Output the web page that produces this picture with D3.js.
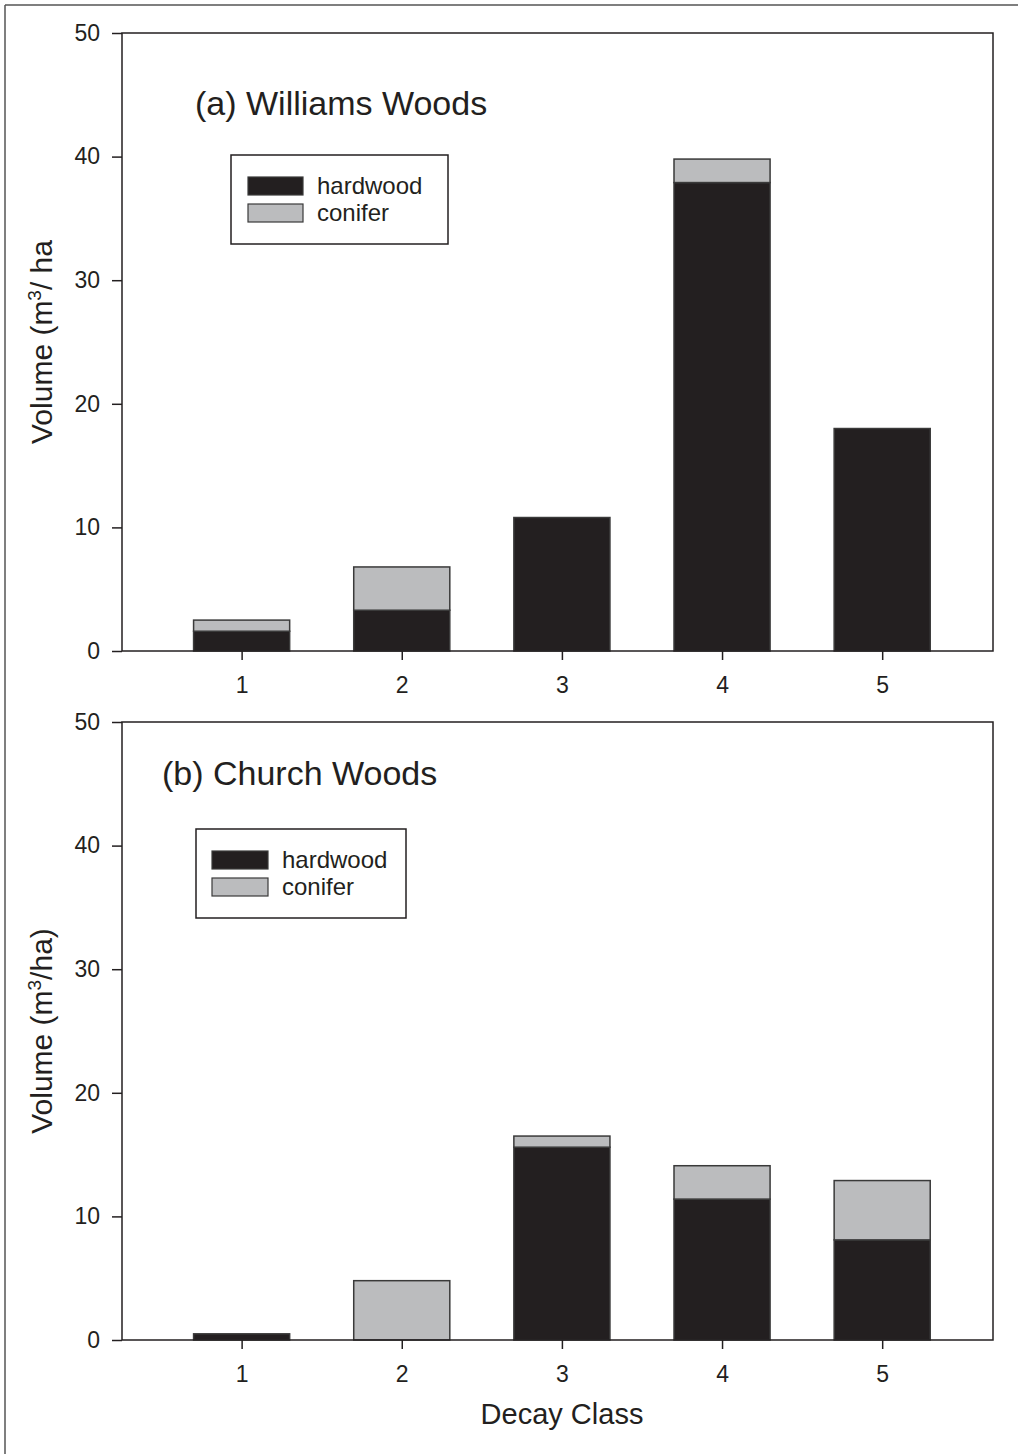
<!DOCTYPE html>
<html>
<head>
<meta charset="utf-8">
<script src="https://cdn.jsdelivr.net/npm/d3@7"></script>
<style>
  html, body { margin: 0; padding: 0; background: #fff; }
  svg { display: block; }
  text { font-family: "Liberation Sans", Arial, sans-serif; fill: #231f20; }
</style>
</head>
<body>
<svg id="chart" width="1018" height="1454"></svg>
<script>
// ---- data ----
const decayClasses = [1, 2, 3, 4, 5];
const yTicks = [0, 10, 20, 30, 40, 50];
const seriesNames = ["hardwood", "conifer"];
const williamsHardwood = [1.6, 3.3, 10.8, 37.9, 18.0];
const williamsConifer  = [0.9, 3.5, 0.0, 1.9, 0.0];
const churchHardwood   = [0.5, 0.0, 15.6, 11.4, 8.1];
const churchConifer    = [0.0, 4.8, 0.9, 2.7, 4.8];
const panelTitles = ["(a) Williams Woods", "(b) Church Woods"];

const colors = { hardwood: "#231f20", conifer: "#bbbcbe" };
const stroke = "#3a3a3a";

const svg = d3.select("#chart");

// outer frame (top and left edges)
svg.append("line").attr("x1", 5).attr("y1", 5).attr("x2", 1018).attr("y2", 5)
  .attr("stroke", "#555").attr("stroke-width", 1.5);
svg.append("line").attr("x1", 5).attr("y1", 5).attr("x2", 5).attr("y2", 1454)
  .attr("stroke", "#555").attr("stroke-width", 1.5);

const left = 122, right = 993;
const x = d3.scaleLinear().domain([0.253, 5.692]).range([left, right]);
const barW = x(1.6) - x(1.0);

const panels = [
  { top: 33, bottom: 651, hard: williamsHardwood, con: williamsConifer, title: panelTitles[0],
    titleX: 195, titleY: 115, ylabel: ["Volume (m", "3", "/ ha"],
    legend: { x: 231, y: 155, w: 217, h: 89, sx: 248, sw: 55, sy1: 177, sy2: 204, sh: 18, tx: 317 } },
  { top: 722, bottom: 1340, hard: churchHardwood, con: churchConifer, title: panelTitles[1],
    titleX: 162, titleY: 785, ylabel: ["Volume (m", "3", "/ha)"],
    legend: { x: 196, y: 829, w: 210, h: 89, sx: 212, sw: 56, sy1: 851, sy2: 878, sh: 18, tx: 282 } }
];

panels.forEach((p) => {
  const y = d3.scaleLinear().domain([0, 50]).range([p.bottom, p.top]);
  const g = svg.append("g");

  // stacked data
  const rows = decayClasses.map((c, i) => ({ cls: c, hardwood: p.hard[i], conifer: p.con[i] }));
  const stacked = d3.stack().keys(seriesNames)(rows);

  stacked.forEach((layer) => {
    g.append("g").selectAll("rect")
      .data(layer.filter(d => d[1] - d[0] > 0))
      .join("rect")
      .attr("x", d => x(d.data.cls) - barW / 2)
      .attr("width", barW)
      .attr("y", d => y(d[1]))
      .attr("height", d => y(d[0]) - y(d[1]))
      .attr("fill", colors[layer.key])
      .attr("stroke", stroke)
      .attr("stroke-width", 1.5);
  });

  // plot frame
  g.append("rect").attr("x", left).attr("y", p.top).attr("width", right - left).attr("height", p.bottom - p.top)
    .attr("fill", "none").attr("stroke", "#231f20").attr("stroke-width", 1.5);

  // y axis
  const yAxis = d3.axisLeft(y).tickValues(yTicks).tickSize(10).tickPadding(12).tickFormat(d3.format("d"));
  const ya = g.append("g").attr("transform", `translate(${left},0)`).call(yAxis);
  ya.select(".domain").remove();
  ya.selectAll("line").attr("stroke", "#231f20").attr("stroke-width", 1.5);
  ya.selectAll("text").style("font-size", "23px").style("font-family", '"Liberation Sans", Arial, sans-serif').attr("fill", "#231f20");

  // x axis
  const xAxis = d3.axisBottom(x).tickValues(decayClasses).tickSize(9).tickPadding(17).tickFormat(d3.format("d"));
  const xa = g.append("g").attr("transform", `translate(0,${p.bottom})`).call(xAxis);
  xa.select(".domain").remove();
  xa.selectAll("line").attr("stroke", "#231f20").attr("stroke-width", 1.5);
  xa.selectAll("text").style("font-size", "23px").style("font-family", '"Liberation Sans", Arial, sans-serif').attr("fill", "#231f20");

  // panel title
  g.append("text").attr("x", p.titleX).attr("y", p.titleY).style("font-size", "34px").text(p.title);

  // y label
  const cy = (p.top + p.bottom) / 2;
  const yl = g.append("text").attr("transform", `translate(52,${cy}) rotate(-90)`)
    .attr("text-anchor", "middle").style("font-size", "30px");
  yl.append("tspan").text(p.ylabel[0]);
  yl.append("tspan").attr("dy", -11).style("font-size", "19px").text(p.ylabel[1]);
  yl.append("tspan").attr("dy", 11).text(p.ylabel[2]);

  // legend
  const L = p.legend;
  const lg = g.append("g");
  lg.append("rect").attr("x", L.x).attr("y", L.y).attr("width", L.w).attr("height", L.h)
    .attr("fill", "#fff").attr("stroke", "#231f20").attr("stroke-width", 1.5);
  seriesNames.forEach((s, i) => {
    const sy = i === 0 ? L.sy1 : L.sy2;
    lg.append("rect").attr("x", L.sx).attr("y", sy).attr("width", L.sw).attr("height", L.sh)
      .attr("fill", colors[s]).attr("stroke", stroke).attr("stroke-width", 1.2);
    lg.append("text").attr("x", L.tx).attr("y", sy + L.sh / 2).attr("dy", "0.35em")
      .style("font-size", "24px").text(s);
  });
});

// x axis title
svg.append("text").attr("x", 562).attr("y", 1424).attr("text-anchor", "middle")
  .style("font-size", "29px").text("Decay Class");
</script>
</body>
</html>
